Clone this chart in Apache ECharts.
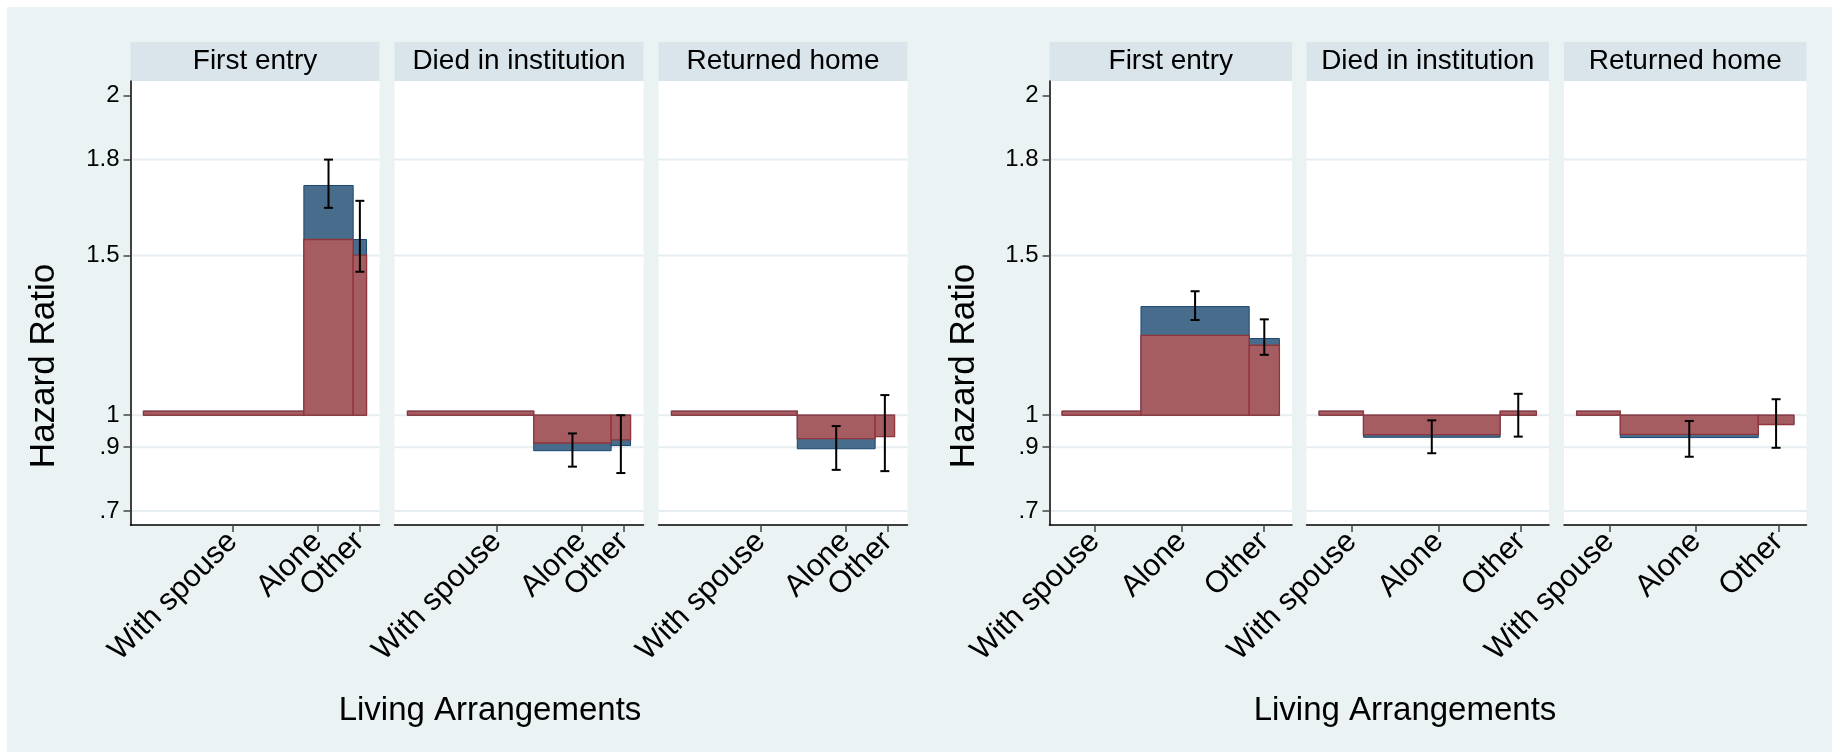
<!DOCTYPE html>
<html>
<head>
<meta charset="utf-8">
<script src="https://cdn.jsdelivr.net/npm/echarts@6/dist/echarts.min.js"></script>
<style>
  html, body { margin: 0; padding: 0; background: #ffffff; }
  #frame { position: absolute; left: 7px; top: 7px; width: 1825px; height: 745px; background: #EAF2F3; }
  #chart { position: absolute; left: 0; top: 0; width: 1832px; height: 752px; }
</style>
</head>
<body>
<div id="frame"></div>
<div id="chart"></div>
<script>
// ---- data ---------------------------------------------------------------
const facetTitles = ['First entry', 'Died in institution', 'Returned home'];
const categories = ['With spouse', 'Alone', 'Other'];
const yTickValues = [0.7, 0.9, 1, 1.5, 1.8, 2];
const yTickLabels = ['.7', '.9', '1', '1.5', '1.8', '2'];
const gridLineValues = [0.7, 0.9, 1, 1.5, 1.8];

// left panel: group shares (bar widths), hazard ratios, confidence limits
const leftShares = [[0.719, 0.221, 0.060], [0.566, 0.347, 0.087], [0.564, 0.349, 0.087]];
const leftBlue   = [[1, 1.719, 1.550], [1, 0.889, 0.905], [1, 0.895, 0.940]];
const leftRed    = [[1, 1.550, 1.501], [1, 0.913, 0.923], [1, 0.927, 0.933]];
const leftLo     = [[null, 1.649, 1.449], [null, 0.839, 0.819], [null, 0.829, 0.825]];
const leftHi     = [[null, 1.800, 1.671], [null, 0.943, 1.000], [null, 0.966, 1.063]];
const leftTickPos = [0.399, 0.779, 0.968];

// right panel
const rightShares = [[0.363, 0.498, 0.139], [0.204, 0.629, 0.167], [0.201, 0.635, 0.164]];
const rightBlue   = [[1, 1.340, 1.240], [1, 0.931, 0.998], [1, 0.930, 0.972]];
const rightRed    = [[1, 1.250, 1.219], [1, 0.939, 1.000], [1, 0.940, 0.971]];
const rightLo     = [[null, 1.298, 1.189], [null, 0.881, 0.933], [null, 0.870, 0.898]];
const rightHi     = [[null, 1.388, 1.300], [null, 0.984, 1.067], [null, 0.982, 1.050]];
const rightTickPos = [0.151, 0.550, 0.929];

// ---- layout & style -----------------------------------------------------
const FONT = '"Liberation Sans", Arial, Helvetica, sans-serif';
const BASE = 1;                       // reference hazard ratio
const X_MIN = -0.058, X_MAX = 1.058;
const Y_MIN = 0.6564, Y_MAX = 2.046;
const PLOT_TOP = 81, PLOT_H = 444, STRIP_TOP = 42, STRIP_H = 39;

const panels = [
  { lefts: [130.5, 394.5, 658.5], width: 249, shares: leftShares, blue: leftBlue, red: leftRed,
    lo: leftLo, hi: leftHi, ticks: leftTickPos, yTitleX: 44, xTitleX: 490 },
  { lefts: [1049.5, 1306.5, 1564], width: 242.5, shares: rightShares, blue: rightBlue, red: rightRed,
    lo: rightLo, hi: rightHi, ticks: rightTickPos, yTitleX: 964.5, xTitleX: 1405 }
];

const BLUE = { fill: '#486C8C', stroke: '#1A476F', lineWidth: 1 };
const RED  = { fill: '#A65D62', stroke: '#90353B', lineWidth: 1.3 };

function nearestIndex(arr, v) {
  let best = 0;
  arr.forEach((a, i) => { if (Math.abs(a - v) < Math.abs(arr[best] - v)) best = i; });
  return best;
}

function barRenderer(style) {
  return function (params, api) {
    const x0 = api.value(0), x1 = api.value(1), v = api.value(2);
    const pBase = api.coord([x0, BASE]);
    const pTop = api.coord([x1, v]);
    let y = Math.min(pBase[1], pTop[1]);
    let h = Math.abs(pTop[1] - pBase[1]);
    if (h < 4) { y = pBase[1] - 4; h = 4; }   // reference bars shown as a thin strip
    return {
      type: 'rect',
      shape: { x: pBase[0], y: y, width: pTop[0] - pBase[0], height: h },
      style: Object.assign({}, style)
    };
  };
}

function errorRenderer(params, api) {
  const xc = api.value(0);
  const pLo = api.coord([xc, api.value(1)]);
  const pHi = api.coord([xc, api.value(2)]);
  const cap = 4.5;
  const ls = { stroke: '#000', lineWidth: 2 };
  return {
    type: 'group',
    children: [
      { type: 'line', shape: { x1: pLo[0], y1: pLo[1], x2: pHi[0], y2: pHi[1] }, style: ls },
      { type: 'line', shape: { x1: pLo[0] - cap, y1: pLo[1], x2: pLo[0] + cap, y2: pLo[1] }, style: ls },
      { type: 'line', shape: { x1: pHi[0] - cap, y1: pHi[1], x2: pHi[0] + cap, y2: pHi[1] }, style: ls }
    ]
  };
}

function gridLineRenderer(params, api) {
  const cs = params.coordSys;
  const y = api.coord([0, api.value(1)])[1];
  return {
    type: 'line',
    shape: { x1: cs.x, y1: y, x2: cs.x + cs.width, y2: y },
    style: { stroke: '#E6EEF1', lineWidth: 2 }
  };
}

const grids = [], xAxes = [], yAxes = [], series = [], graphics = [];

panels.forEach(p => {
  p.lefts.forEach((left, f) => {
    const idx = grids.length;
    grids.push({ left: left, top: PLOT_TOP, width: p.width, height: PLOT_H,
                 show: true, backgroundColor: '#ffffff', borderWidth: 0 });

    // one bottom axis per category so that the crowded, overlapping
    // rotated labels are all kept; the first also carries the axis line
    const xIdx = xAxes.length;
    categories.forEach((cat, c) => {
      xAxes.push({
        gridIndex: idx, type: 'value', min: X_MIN, max: X_MAX, z: 5,
        position: 'bottom', offset: 0,
        axisLine: { show: c === 0, onZero: false, lineStyle: { color: '#000', width: 1.5 } },
        axisTick: { show: true, length: 7, customValues: [p.ticks[c]],
                    lineStyle: { color: '#444', width: 1.5 } },
        axisLabel: {
          customValues: [p.ticks[c]], rotate: 45, margin: 12, fontSize: 30.5, fontFamily: FONT, color: '#000',
          hideOverlap: false, showMinLabel: true, showMaxLabel: true,
          formatter: () => cat
        },
        splitLine: { show: false }
      });
    });

    const first = f === 0;
    yAxes.push({
      gridIndex: idx, type: 'value', min: Y_MIN, max: Y_MAX, z: 5,
      axisLine: { show: first, onZero: false, lineStyle: { color: '#000', width: 1.5 } },
      axisTick: { show: first, length: 7, customValues: yTickValues, lineStyle: { color: '#444', width: 1.5 } },
      axisLabel: {
        show: first, customValues: yTickValues, margin: 11, fontSize: 24, fontFamily: FONT, color: '#000',
        hideOverlap: false, showMinLabel: true, showMaxLabel: true,
        formatter: v => yTickLabels[nearestIndex(yTickValues, v)]
      },
      splitLine: { show: false }
    });

    // bar edges from cumulative group shares
    const sh = p.shares[f];
    const edges = [0];
    sh.forEach((s, i) => edges.push(edges[i] + s));
    const barData = vals => categories.map((c, i) => [edges[i], edges[i + 1], vals[i]]);

    series.push({
      type: 'custom', xAxisIndex: xIdx, yAxisIndex: idx, z: 1, silent: true,
      data: gridLineValues.map(v => [0, v]), encode: { x: 0, y: 1 },
      renderItem: gridLineRenderer
    });
    series.push({
      type: 'custom', xAxisIndex: xIdx, yAxisIndex: idx, z: 2,
      data: barData(p.blue[f]), encode: { x: [0, 1], y: 2 },
      renderItem: barRenderer(BLUE)
    });
    series.push({
      type: 'custom', xAxisIndex: xIdx, yAxisIndex: idx, z: 3,
      data: barData(p.red[f]), encode: { x: [0, 1], y: 2 },
      renderItem: barRenderer(RED)
    });
    const errData = [];
    categories.forEach((c, i) => {
      if (p.lo[f][i] != null) errData.push([(edges[i] + edges[i + 1]) / 2, p.lo[f][i], p.hi[f][i]]);
    });
    series.push({
      type: 'custom', xAxisIndex: xIdx, yAxisIndex: idx, z: 4,
      data: errData, encode: { x: 0, y: [1, 2] },
      renderItem: errorRenderer
    });

    // facet header strip
    graphics.push({ type: 'rect', shape: { x: left, y: STRIP_TOP, width: p.width, height: STRIP_H },
                    style: { fill: '#D9E5EB' } });
    graphics.push({ type: 'text', x: left + p.width / 2, y: STRIP_TOP + STRIP_H / 2 - 0.5,
                    style: { text: facetTitles[f], fontSize: 28, fontFamily: FONT, fill: '#000',
                             align: 'center', verticalAlign: 'middle' } });
  });

  graphics.push({ type: 'text', x: p.yTitleX, y: 366, rotation: Math.PI / 2,
                  style: { text: 'Hazard Ratio', fontSize: 35, fontFamily: FONT, fill: '#000',
                           align: 'center', verticalAlign: 'middle' } });
  graphics.push({ type: 'text', x: p.xTitleX, y: 711,
                  style: { text: 'Living Arrangements', fontSize: 33, fontFamily: FONT, fill: '#000',
                           align: 'center', verticalAlign: 'middle' } });
});

const chart = echarts.init(document.getElementById('chart'), null, { renderer: 'canvas' });
chart.setOption({
  animation: false,
  backgroundColor: 'transparent',
  grid: grids,
  xAxis: xAxes,
  yAxis: yAxes,
  series: series,
  graphic: graphics
});
</script>
</body>
</html>
